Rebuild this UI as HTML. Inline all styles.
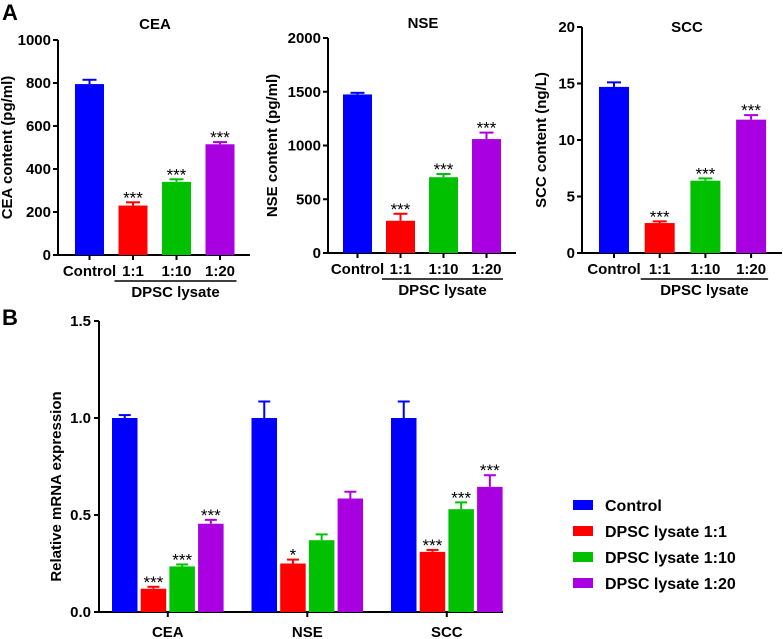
<!DOCTYPE html>
<html><head><meta charset="utf-8"><style>
body{margin:0;background:#fff;}
svg{display:block;font-family:"Liberation Sans",Arial,sans-serif;font-weight:bold;}
</style></head><body>
<svg id="s" width="783" height="639" viewBox="0 0 783 639" xmlns="http://www.w3.org/2000/svg"></svg>
<script>
const colors=["#0000ff","#ff0000","#00c000","#a800e0"];
const groupLabels=["Control","1:1","1:10","1:20"];
const ceaVals=[795,230,340,515];
const ceaErr=[20,15,12,10];
const nseVals=[1475,300,705,1060];
const nseErr=[15,65,30,60];
const sccVals=[14.7,2.65,6.4,11.8];
const sccErr=[0.4,0.15,0.2,0.4];
const ceaStars=["","***","***","***"];
const nseStars=["","***","***","***"];
const sccStars=["","***","***","***"];
const ceaTicks=[0,200,400,600,800,1000];
const nseTicks=[0,500,1000,1500,2000];
const sccTicks=[0,5,10,15,20];
const bCats=["CEA","NSE","SCC"];
const bControl=[1.0,1.0,1.0];
const bL1=[0.12,0.25,0.31];
const bL10=[0.235,0.37,0.53];
const bL20=[0.455,0.585,0.645];
const bControlErr=[0.015,0.085,0.085];
const bL1Err=[0.01,0.02,0.01];
const bL10Err=[0.01,0.03,0.035];
const bL20Err=[0.02,0.035,0.06];
const bL1Stars=["***","*","***"];
const bL10Stars=["***","","***"];
const bL20Stars=["***","","***"];
const bTicks=[0,0.5,1.0,1.5];
const legendLabels=["Control","DPSC lysate 1:1","DPSC lysate 1:10","DPSC lysate 1:20"];

const svg=document.getElementById('s');
const NS="http://www.w3.org/2000/svg";
function mk(tag,attrs,parent,text){const e=document.createElementNS(NS,tag);for(const k in attrs)e.setAttribute(k,attrs[k]);if(text!==undefined)e.textContent=text;(parent||svg).appendChild(e);return e;}

function panelA(cfg){
  const g=mk('g',{});
  
  
  const y=v=>cfg.y0-(v/cfg.max)*(cfg.y0-cfg.yTop);
  const ax=mk('line',{x1:cfg.ax,y1:cfg.yTop,x2:cfg.ax,y2:cfg.y0,stroke:'#000','stroke-width':2},g);
  
  const xa=mk('line',{x1:cfg.ax,y1:cfg.y0,x2:cfg.axEnd,y2:cfg.y0,stroke:'#000','stroke-width':2},g);
  
  cfg.ticks.forEach(t=>{
    mk('line',{x1:cfg.ax-5,y1:y(t),x2:cfg.ax,y2:y(t),stroke:'#000','stroke-width':2},g);
    const tl=mk('text',{x:cfg.ax-7,y:y(t)+5,'text-anchor':'end','font-size':15},g,String(t));
    
  });
  const tt=mk('text',{x:cfg.titleX,y:cfg.titleY,'text-anchor':'middle','font-size':15},g,cfg.title);
  
  const yl=mk('text',{x:0,y:0,'text-anchor':'middle','font-size':15,transform:`translate(${cfg.ylX},${(cfg.yTop+cfg.y0)/2}) rotate(-90)`},g,cfg.ylab);
  
  cfg.vals.forEach((v,i)=>{
    const x=cfg.b0+i*cfg.pitch, w=cfg.bw, cx=x+w/2;
    const r=mk('rect',{x:x,y:y(v),width:w,height:cfg.y0-y(v),fill:colors[i]},g);
    
    const ye=y(v+cfg.err[i]);
    mk('line',{x1:cx,y1:y(v),x2:cx,y2:ye,stroke:colors[i],'stroke-width':2},g);
    mk('line',{x1:cx-7,y1:ye,x2:cx+7,y2:ye,stroke:colors[i],'stroke-width':2},g);
    mk('line',{x1:cx,y1:cfg.y0,x2:cx,y2:cfg.y0+5,stroke:'#000','stroke-width':2},g);
    if(cfg.stars[i]){const s=mk('text',{x:cx,y:ye+1,'text-anchor':'middle','font-size':17,'font-weight':'normal'},g,cfg.stars[i]);
      }
    const xl=mk('text',{x:cx,y:cfg.y0+21,'text-anchor':'middle','font-size':15},g,groupLabels[i]);
    
  });
  const x1=cfg.b0+cfg.pitch-4, x2=cfg.b0+3*cfg.pitch+cfg.bw+2;
  const bl=mk('line',{x1:x1,y1:cfg.y0+26,x2:x2,y2:cfg.y0+26,stroke:'#000','stroke-width':1.5},g);
  
  const dl=mk('text',{x:(x1+x2)/2,y:cfg.y0+42,'text-anchor':'middle','font-size':15},g,'DPSC lysate');
  
}
panelA({name:'cea',ax:58,axEnd:250,yTop:40,y0:255,max:1000,ticks:ceaTicks,vals:ceaVals,err:ceaErr,stars:ceaStars,b0:75,pitch:43.5,bw:29,title:'CEA',titleX:155,titleY:29,ylab:'CEA content (pg/ml)',ylX:12});
panelA({name:'nse',ax:328,axEnd:516,yTop:38,y0:253,max:2000,ticks:nseTicks,vals:nseVals,err:nseErr,stars:nseStars,b0:343,pitch:43,bw:29,title:'NSE',titleX:423,titleY:28,ylab:'NSE content (pg/ml)',ylX:277});
panelA({name:'scc',ax:582,axEnd:782,yTop:27,y0:253,max:20,ticks:sccTicks,vals:sccVals,err:sccErr,stars:sccStars,b0:599,pitch:45.7,bw:30,title:'SCC',titleX:687,titleY:32,ylab:'SCC content (ng/L)',ylX:546});

const A=mk('text',{x:2,y:20,'font-size':22},svg,'A');
const B=mk('text',{x:2,y:325,'font-size':22},svg,'B');

(function(){
  const g=mk('g',{});
  
  
  const ax=99,y0=612,yTop=321,max=1.5;
  const y=v=>y0-(v/max)*(y0-yTop);
  const ya=mk('line',{x1:ax,y1:yTop,x2:ax,y2:y0,stroke:'#000','stroke-width':2},g);
  
  const xa=mk('line',{x1:ax,y1:y0,x2:503,y2:y0,stroke:'#000','stroke-width':2},g);
  
  bTicks.forEach(t=>{
    mk('line',{x1:ax-5,y1:y(t),x2:ax,y2:y(t),stroke:'#000','stroke-width':2},g);
    const tl=mk('text',{x:ax-8,y:y(t)+5,'text-anchor':'end','font-size':15},g,t.toFixed(1));
    
  });
  const yl=mk('text',{x:0,y:0,'text-anchor':'middle','font-size':15,transform:`translate(61,${(yTop+y0)/2+20}) rotate(-90)`},g,'Relative mRNA expression');
  
  const series=[bControl,bL1,bL10,bL20], errs=[bControlErr,bL1Err,bL10Err,bL20Err], stars=[null,bL1Stars,bL10Stars,bL20Stars];
  bCats.forEach((c,ci)=>{
    const gx=112+ci*139.5;
    series.forEach((s,si)=>{
      const x=gx+si*28.7,w=25.5,cx=x+w/2,v=s[ci];
      const r=mk('rect',{x:x,y:y(v),width:w,height:y0-y(v),fill:colors[si]},g);
      
      const ye=y(v+errs[si][ci]);
      mk('line',{x1:cx,y1:y(v),x2:cx,y2:ye,stroke:colors[si],'stroke-width':2},g);
      mk('line',{x1:cx-6,y1:ye,x2:cx+6,y2:ye,stroke:colors[si],'stroke-width':2},g);
      if(stars[si]&&stars[si][ci]){const t=mk('text',{x:cx,y:ye+1,'text-anchor':'middle','font-size':17,'font-weight':'normal'},g,stars[si][ci]);
        }
    });
    const mid=gx+(3*28.7+25.5)/2;
    mk('line',{x1:mid,y1:y0,x2:mid,y2:y0+5,stroke:'#000','stroke-width':2},g);
    const xl=mk('text',{x:mid,y:y0+25,'text-anchor':'middle','font-size':15},g,c);
    
  });
  legendLabels.forEach((l,i)=>{
    const ly=505+i*26;
    const r=mk('rect',{x:573,y:ly-5,width:20,height:10,fill:colors[i]},g);
    
    const t=mk('text',{x:605,y:ly+6,'font-size':16},g,l);
    
  });
})();
</script>
</body></html>
